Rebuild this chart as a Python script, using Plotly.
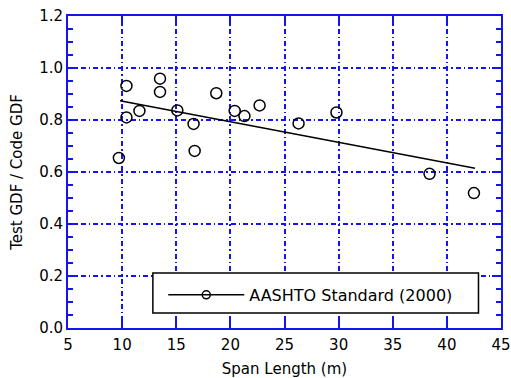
import plotly.graph_objects as go

# Data
span_m = [9.7, 10.4, 10.4, 11.6, 13.5, 13.5, 15.1, 16.6, 16.7, 18.7, 20.4, 21.3, 22.7, 26.3, 29.8, 38.4, 42.5]
gdf_ratio = [0.654, 0.931, 0.810, 0.835, 0.959, 0.908, 0.837, 0.785, 0.681, 0.903, 0.835, 0.815, 0.856, 0.787, 0.829, 0.593, 0.519]
fit_x = [9.8, 42.6]
fit_y = [0.874, 0.614]
series_name = "AASHTO Standard (2000)"
x_ticks = [5, 10, 15, 20, 25, 30, 35, 40, 45]
y_ticks = [0.0, 0.2, 0.4, 0.6, 0.8, 1.0, 1.2]
y_ticklabels = ["0.0", "0.2", "0.4", "0.6", "0.8", "1.0", "1.2"]

BLUE = "#1414F0"
FONT = "DejaVu Sans, Arial, Liberation Sans, sans-serif"
FS = 15
GRID_DASH = "5px,3px,1.5px,3px"

fig = go.Figure()
fig.add_trace(go.Scatter(
    x=span_m, y=gdf_ratio, mode="markers",
    marker=dict(symbol="circle-open", size=11, color="black", line=dict(width=1.5, color="black")),
    showlegend=False, cliponaxis=False))
fig.add_trace(go.Scatter(
    x=fit_x, y=fit_y, mode="lines", line=dict(color="black", width=1.5),
    showlegend=False))
# legend entry (line with circle marker)
fig.add_trace(go.Scatter(
    x=[None], y=[None], mode="lines+markers", name=series_name,
    line=dict(color="black", width=1.5),
    marker=dict(symbol="circle-open", size=8, color="black", line=dict(width=1.5, color="black"))))

axis_common = dict(
    showline=True, linecolor=BLUE, linewidth=2, mirror="allticks",
    ticks="inside", ticklen=9, tickwidth=2, tickcolor=BLUE,
    showgrid=True, gridcolor=BLUE, gridwidth=1.5, griddash=GRID_DASH,
    zeroline=False, automargin=False, ticklabeloverflow="allow",
    tickfont=dict(family=FONT, size=FS, color="black"),
)

fig.update_xaxes(
    range=[5, 45], tickmode="array", tickvals=x_ticks, ticklabelstandoff=2,
    title=dict(text="Span Length (m)", font=dict(family=FONT, size=FS, color="black"), standoff=11),
    **axis_common)
fig.update_yaxes(
    range=[0, 1.2], tickmode="array", tickvals=y_ticks, ticktext=y_ticklabels,
    minor=dict(dtick=0.05, ticks="inside", ticklen=5, tickwidth=2, tickcolor=BLUE, showgrid=False),
    title=dict(text="Test GDF / Code GDF", font=dict(family=FONT, size=FS, color="black"), standoff=13),
    **axis_common)

# legend box
fig.add_shape(type="rect", xref="paper", yref="paper",
              x0=0.196, x1=0.948, y0=0.048, y1=0.176,
              line=dict(color="black", width=1.5), fillcolor="white", layer="above")

fig.update_layout(
    width=511, height=378,
    margin=dict(l=68, r=10, t=16, b=50),
    plot_bgcolor="white", paper_bgcolor="white",
    font=dict(family=FONT, size=FS, color="black"),
    showlegend=True,
    legend=dict(x=0.22, y=0.106, xanchor="left", yanchor="middle",
                bgcolor="rgba(0,0,0,0)", borderwidth=0,
                itemwidth=76, font=dict(family=FONT, size=16, color="black")),
)

# remove the default page margin so the 511x378 figure fills the window exactly
fig.write_html(
    "out.html",
    config={"displayModeBar": False},
    post_script="document.documentElement.style.margin='0';document.body.style.margin='0';document.body.style.overflow='hidden';",
)
